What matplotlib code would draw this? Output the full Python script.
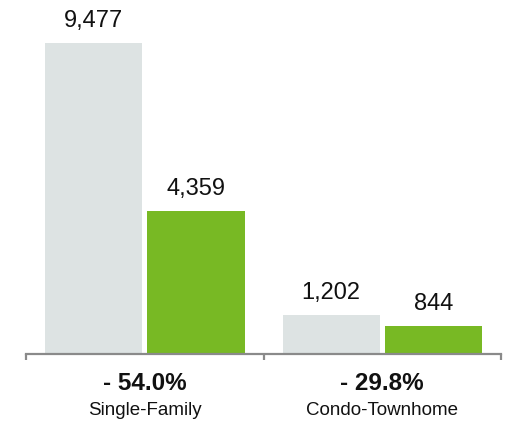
import numpy as np
import matplotlib
matplotlib.use("Agg")
import matplotlib.pyplot as plt
import matplotlib.transforms as mtransforms

plt.rcParams['font.family'] = ['Liberation Sans', 'DejaVu Sans']

categories = ["Single-Family", "Condo-Townhome"]
prior_year = [9477, 1202]
current_year = [4359, 844]
pct_change = ["- 54.0%", "- 29.8%"]

gray = '#dde3e3'
green = '#78b924'
axis_gray = '#8a8a8a'

fig = plt.figure(figsize=(5.08, 4.22), dpi=100)
ax = fig.add_axes([26 / 508, 68 / 422, 475 / 508, 354 / 422])

x = np.arange(len(categories))
width = 0.41
off = 0.215
b1 = ax.bar(x - off, prior_year, width, color=gray)
b2 = ax.bar(x + off, current_year, width, color=green)

for bars, vals in ((b1, prior_year), (b2, current_year)):
    for rect, v in zip(bars, vals):
        ax.annotate(f"{v:,}", (rect.get_x() + rect.get_width() / 2, v),
                    xytext=(0, 11.5), textcoords='offset points',
                    ha='center', va='baseline', fontsize=17, color='#111111')

ax.set_xlim(-0.5, 1.5)
ax.set_ylim(0, 10790)
ax.set_yticks([])
ax.set_xticks([-0.5, 0.5, 1.5])
ax.set_xticklabels([])
ax.tick_params(axis='x', direction='out', length=4, width=1.6, color=axis_gray)
for s in ('top', 'left', 'right'):
    ax.spines[s].set_visible(False)
ax.spines['bottom'].set_color(axis_gray)
ax.spines['bottom'].set_linewidth(1.6)

trans = mtransforms.blended_transform_factory(ax.transData, fig.transFigure)
for xi, cat, pct in zip(x, categories, pct_change):
    ax.text(xi, 32 / 422, pct, transform=trans, ha='center', va='baseline',
            fontsize=17.5, fontweight='bold', color='#111111')
    ax.text(xi, 7 / 422, cat, transform=trans, ha='center', va='baseline',
            fontsize=13.5, color='#111111')

fig.savefig("out.png", dpi=100)
